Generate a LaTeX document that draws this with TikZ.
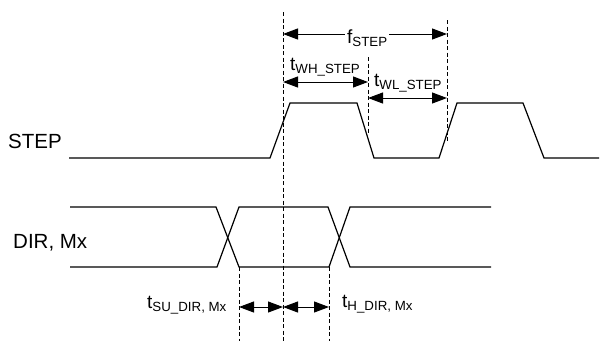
\documentclass[tikz,border=0pt]{standalone}
\usepackage{fontspec}
\setmainfont{Liberation Sans}
\usetikzlibrary{arrows.meta}
\newcommand\tsub[2]{{\fontsize{19}{21}\selectfont #1}\raisebox{-3.5pt}{\fontsize{13.3}{15}\selectfont #2}}
\begin{document}
\begin{tikzpicture}[x=1pt,y=-1pt,
  wave/.style={line width=1.2pt, line join=miter},
  guide/.style={line width=1pt, dash pattern=on 4pt off 2.5pt},
  dim/.style={line width=1pt, {Triangle[length=15pt,width=11pt]}-{Triangle[length=15pt,width=11pt]}},
  lab/.style={inner sep=0pt, anchor=base west}]
\useasboundingbox (0,0) rectangle (600,341);
% labels
\node[lab] (steplab) at (8,148) {\fontsize{20.5}{24}\selectfont STEP};
\node[lab] (dirlab) at (13,248) {\fontsize{20.5}{24}\selectfont DIR, Mx};
% STEP waveform
\draw[wave] (69,158) -- (270,158) -- (290,103) -- (357,103) -- (374,158) -- (439,158) -- (457,103) -- (523,103) -- (544,158) -- (599,158);
% DIR waveform
\draw[wave] (70,207) -- (216,207) -- (239,267) -- (329,267) -- (350,207) -- (491,207);
\draw[wave] (70,267) -- (217,267) -- (239,207) -- (328,207) -- (350,267) -- (491,267);
% guide coordinates
\coordinate (g1t) at (283,12);  \coordinate (g1b) at (283,341);
\coordinate (g2t) at (368,57);  \coordinate (g2b) at (368,134);
\coordinate (g3t) at (447,20);  \coordinate (g3b) at (447,142);
\coordinate (g4t) at (239,267); \coordinate (g4b) at (239,341);
\coordinate (g5t) at (329,267); \coordinate (g5b) at (329,341);
\draw[guide] (g1t) -- (g1b);
\draw[guide] (g2t) -- (g2b);
\draw[guide] (g3t) -- (g3b);
\draw[guide] (g4t) -- (g4b);
\draw[guide] (g5t) -- (g5b);
% dimension arrows
\coordinate (fa) at (283,34);  \coordinate (fb) at (447,34);
\coordinate (wha) at (283,82); \coordinate (whb) at (368,82);
\coordinate (wla) at (368,98); \coordinate (wlb) at (447,98);
\coordinate (sua) at (239,307); \coordinate (sub) at (283,307);
\coordinate (ha) at (283,307); \coordinate (hb) at (329,307);
\draw[dim] (fa) -- (fb);
\draw[dim] (wha) -- (whb);
\draw[dim] (wla) -- (wlb);
\draw[dim] (sua) -- (sub);
\draw[dim] (ha) -- (hb);
% timing labels
\node[lab, fill=white, inner xsep=2pt, inner ysep=1pt] (flab) at (345,43) {\tsub{f}{STEP}};
\node[lab] (whlab) at (290,70) {\tsub{t}{WH\_STEP}};
\node[lab] (wllab) at (374,86) {\tsub{t}{WL\_STEP}};
\node[lab] (sulab) at (147,308) {\tsub{t}{SU\_DIR, Mx}};
\node[lab] (hlab) at (342,307) {\tsub{t}{H\_DIR, Mx}};
\end{tikzpicture}
\end{document}
